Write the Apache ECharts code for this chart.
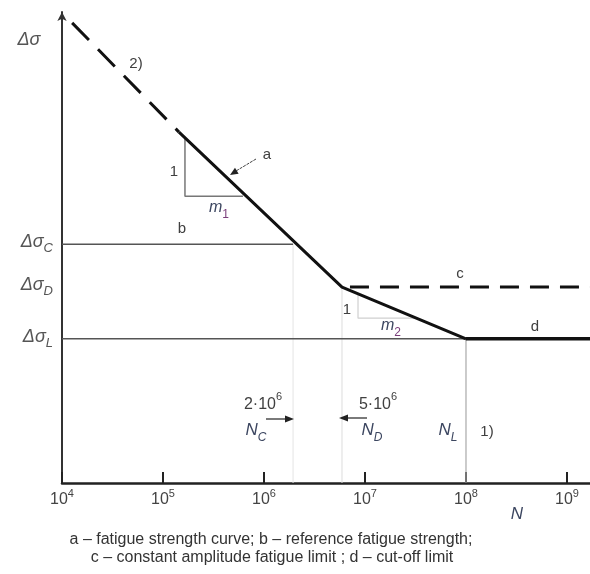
<!DOCTYPE html>
<html><head><meta charset="utf-8">
<script src="https://cdn.jsdelivr.net/npm/echarts@6/dist/echarts.min.js"></script>
<style>html,body{margin:0;padding:0;background:#fff}#c{width:590px;height:574px}</style>
</head><body><div id="c"></div>
<script>
// ---- data (N = cycles, S = relative stress range, schematic) ----
const xMinN = 1e4;
const xMaxN = 1.69e9;
const xTickExponents = [4, 5, 6, 7, 8, 9];
const yLabelValues = [50.7, 41.6, 30.6];
const yLabelSubs = ['C', 'D', 'L'];
// curve a, dashed extension (2))
const curveDashN = [1.26e4, 1.44e5];
const curveDashS = [97.7, 74.5];
// curve a, solid part (slope m1 then m2)
const curveSolidN = [1.44e5, 5.92e6, 1.0e8];
const curveSolidS = [74.5, 41.6, 30.6];
// d - cut-off limit
const cutoffN = [1.0e8, 1.69e9];
const cutoffS = [30.6, 30.6];
// c - constant amplitude fatigue limit
const cafN = [7.1e6, 1.69e9];
const cafS = [41.6, 41.6];
// b - reference fatigue strength line
const refN = [1e4, 1.94e6];
const refS = [50.7, 50.7];
// cut-off reference line
const lowN = [1e4, 1.0e8];
const lowS = [30.6, 30.6];
// vertical guides N_C, N_D, N_L
const guideN = [1.94e6, 5.92e6, 1.0e8];
const guideS = [50.7, 41.6, 30.6];
// slope triangles
const tri1N = [1.65e5, 1.65e5, 6.19e5];
const tri1S = [73.3, 60.9, 60.9];
const tri2N = [8.53e6, 8.53e6, 3.27e7];
const tri2S = [40.2, 35.0, 35.0];

const FONT = '"Liberation Sans", Arial, sans-serif';
const TXT = '#404040';
const BLU = '#3c4660';
const zip = (a, b) => a.map((v, i) => [v, b[i]]);
function line(data, color, width, type, z) {
  return {type: 'line', data, showSymbol: false, symbol: 'none', silent: true, animation: false,
    lineStyle: {color, width, type: type || 'solid', cap: 'butt'}, z: z || 2};
}
const series = [
  line([[guideN[0], 0], [guideN[0], guideS[0]]], '#e4e4e4', 1, 'solid', 1),
  line([[guideN[1], 0], [guideN[1], guideS[1]]], '#dcdcdc', 1, 'solid', 1),
  line([[guideN[2], 0], [guideN[2], guideS[2]]], '#a8a8a8', 1.2, 'solid', 1),
  line(zip(tri1N, tri1S), '#777', 1.5, 'solid', 2),
  line(zip(tri2N, tri2S), '#d0d0d0', 1.2, 'solid', 2),
  line(zip(refN, refS), '#555', 1.5, 'solid', 2),
  line(zip(lowN, lowS), '#555', 1.5, 'solid', 2),
  line(zip(curveDashN, curveDashS), '#111', 3, [24, 13], 3),
  line(zip(curveSolidN, curveSolidS), '#111', 3, 'solid', 3),
  line(zip(cafN, cafS), '#111', 3, [19, 11], 3),
  line(zip(cutoffN, cutoffS), '#111', 3.5, 'solid', 3)
];

function txt(x, y, text, rich, size, extraStyle) {
  return {type: 'text', x, y, z: 10, silent: true,
    style: Object.assign({text, rich, fill: TXT, fontSize: size || 15, fontFamily: FONT,
      align: 'center', verticalAlign: 'middle', textAlign: 'center', textVerticalAlign: 'middle'}, extraStyle || {})};
}
const richSup = {b: {fontSize: 16, fontFamily: FONT, fill: TXT, color: TXT, lineHeight: 21, verticalAlign: 'bottom'},
                 p: {fontSize: 11, fontFamily: FONT, fill: TXT, color: TXT, verticalAlign: 'top'}};
const richSub = {n: {fontSize: 17, fontStyle: 'italic', fontFamily: FONT, fill: BLU, color: BLU, lineHeight: 22, verticalAlign: 'top'},
                 s: {fontSize: 12, fontStyle: 'italic', fontFamily: FONT, fill: BLU, color: BLU, verticalAlign: 'bottom'}};
const richM = {n: {fontSize: 16, fontStyle: 'italic', fontFamily: FONT, fill: BLU, lineHeight: 21, verticalAlign: 'top'},
               s: {fontSize: 12, fontFamily: FONT, fill: '#7a3d7a', verticalAlign: 'bottom'}};

function arrowHead(tx, ty, dx, dy, len, w, color) {
  const L = Math.hypot(dx, dy), ux = dx / L, uy = dy / L;
  const bx = tx - ux * len, by = ty - uy * len;
  return {type: 'polygon', z: 10, silent: true,
    shape: {points: [[tx, ty], [bx - uy * w, by + ux * w], [bx + uy * w, by - ux * w]]},
    style: {fill: color}};
}
const graphic = [
  txt(29, 40, 'Δσ', null, 18, {fill: '#555', fontStyle: 'italic'}),
  txt(136, 64, '2)'),
  txt(267, 155, 'a'),
  {type: 'line', z: 10, silent: true, shape: {x1: 256, y1: 159, x2: 236, y2: 171}, style: {stroke: '#444', lineWidth: 1, lineDash: [3, 1]}},
  arrowHead(230, 175, -26, 16, 8, 3.5, '#222'),
  txt(174, 172, '1'),
  txt(219, 210, '{n|m}{s|1}', richM),
  txt(182, 229, 'b'),
  txt(460, 274, 'c'),
  txt(347, 310, '1'),
  txt(391, 328, '{n|m}{s|2}', richM),
  txt(535, 327, 'd'),
  txt(263, 402, '{b|2·10}{p|6}', richSup),
  {type: 'line', z: 10, silent: true, shape: {x1: 266, y1: 419, x2: 286, y2: 419}, style: {stroke: '#222', lineWidth: 1.2}},
  arrowHead(294, 419, 1, 0, 9, 3.5, '#222'),
  txt(256, 433, '{n|N}{s|C}', richSub),
  txt(378, 402, '{b|5·10}{p|6}', richSup),
  {type: 'line', z: 10, silent: true, shape: {x1: 367, y1: 418, x2: 347, y2: 418}, style: {stroke: '#222', lineWidth: 1.2}},
  arrowHead(339, 418, -1, 0, 9, 3.5, '#222'),
  txt(372, 433, '{n|N}{s|D}', richSub),
  txt(448, 433, '{n|N}{s|L}', richSub),
  txt(487, 432, '1)'),
  txt(517, 514, 'N', null, 17, {fill: BLU, fontStyle: 'italic'}),
  txt(271, 540, 'a – fatigue strength curve; b – reference fatigue strength;', null, 16, {fill: '#333'}),
  txt(272, 558, 'c – constant amplitude fatigue limit ; d – cut-off limit', null, 16, {fill: '#333'})
];

const chart = echarts.init(document.getElementById('c'), null, {renderer: 'canvas'});
chart.setOption({
  backgroundColor: '#fff',
  animation: false,
  grid: {left: 62, right: 0, top: 12, bottom: 91, containLabel: false, outerBoundsMode: 'none'},
  xAxis: {
    type: 'log', logBase: 10, min: xMinN, max: xMaxN,
    axisLine: {show: true, lineStyle: {color: '#222', width: 2.5}},
    axisTick: {show: true, inside: true, length: 11, lineStyle: {color: '#222', width: 2}},
    splitLine: {show: false}, minorTick: {show: false},
    axisLabel: {
      margin: 5, showMaxLabel: false,
      formatter: function (v) {
        const e = Math.round(Math.log10(v));
        if (Math.abs(Math.log10(v) - e) > 1e-6 || xTickExponents.indexOf(e) < 0) return '';
        return '{b|10}{p|' + e + '}';
      },
      rich: {b: {fontSize: 16, fontFamily: FONT, color: '#444', lineHeight: 20, verticalAlign: 'bottom'},
             p: {fontSize: 11, fontFamily: FONT, color: '#444', verticalAlign: 'top'}}
    }
  },
  yAxis: {
    type: 'value', min: 0, max: 100,
    axisLine: {show: true, symbol: ['none', 'arrow'], symbolSize: [7, 9], lineStyle: {color: '#333', width: 2}},
    axisTick: {show: false}, splitLine: {show: false},
    axisLabel: {
      customValues: yLabelValues, margin: 9,
      formatter: function (v) {
        const i = yLabelValues.indexOf(v);
        return i < 0 ? '' : '{g|Δσ}{s|' + yLabelSubs[i] + '}';
      },
      rich: {g: {fontSize: 18, fontStyle: 'italic', fontFamily: FONT, color: '#555', lineHeight: 22, verticalAlign: 'top'},
             s: {fontSize: 13, fontStyle: 'italic', fontFamily: FONT, color: '#555', verticalAlign: 'bottom'}}
    }
  },
  series,
  graphic
});
</script></body></html>
